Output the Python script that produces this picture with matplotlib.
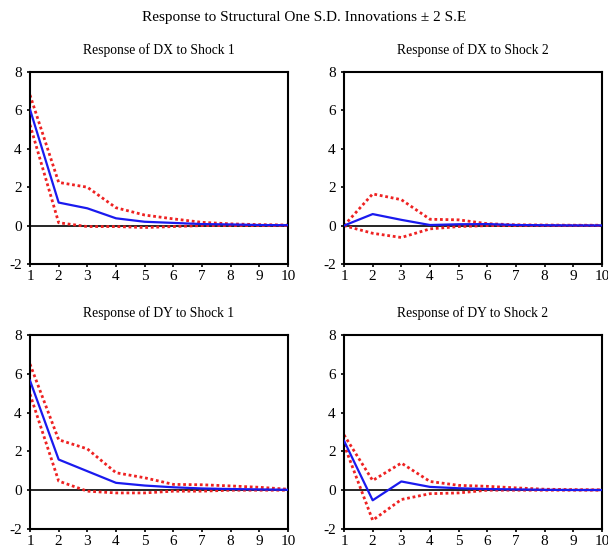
import matplotlib
matplotlib.use("Agg")
import matplotlib.pyplot as plt
import numpy as np

plt.rcParams['font.family'] = ['Liberation Serif', 'DejaVu Serif']
plt.rcParams['axes.unicode_minus'] = False

periods = list(range(1, 11))

titles = ["Response of DX to Shock 1", "Response of DX to Shock 2",
          "Response of DY to Shock 1", "Response of DY to Shock 2"]

dx_s1_mid = [6.05, 1.20, 0.90, 0.38, 0.20, 0.14, 0.08, 0.06, 0.03, 0.02]
dx_s1_up = [6.80, 2.25, 2.00, 0.93, 0.55, 0.35, 0.17, 0.09, 0.05, 0.03]
dx_s1_lo = [5.25, 0.15, -0.05, -0.05, -0.10, -0.05, 0.00, 0.00, 0.00, 0.00]

dx_s2_mid = [0.00, 0.60, 0.30, 0.03, 0.07, 0.08, 0.03, 0.02, 0.01, 0.01]
dx_s2_up = [0.00, 1.65, 1.35, 0.33, 0.30, 0.10, 0.04, 0.03, 0.02, 0.02]
dx_s2_lo = [0.00, -0.40, -0.62, -0.17, -0.05, 0.00, 0.00, 0.00, 0.00, 0.00]

dy_s1_mid = [5.65, 1.58, 0.98, 0.38, 0.24, 0.15, 0.09, 0.06, 0.04, 0.02]
dy_s1_up = [6.50, 2.60, 2.13, 0.90, 0.64, 0.30, 0.28, 0.22, 0.15, 0.05]
dy_s1_lo = [4.95, 0.47, -0.05, -0.14, -0.14, -0.05, -0.05, 0.00, 0.00, 0.00]

dy_s2_mid = [2.55, -0.52, 0.45, 0.17, 0.10, 0.06, 0.04, 0.02, 0.01, 0.01]
dy_s2_up = [2.85, 0.50, 1.40, 0.45, 0.25, 0.20, 0.12, 0.05, 0.03, 0.02]
dy_s2_lo = [2.35, -1.55, -0.48, -0.18, -0.14, 0.00, 0.00, 0.00, 0.00, 0.00]

series = [(dx_s1_mid, dx_s1_up, dx_s1_lo), (dx_s2_mid, dx_s2_up, dx_s2_lo),
          (dy_s1_mid, dy_s1_up, dy_s1_lo), (dy_s2_mid, dy_s2_up, dy_s2_lo)]

yticks = [-2, 0, 2, 4, 6, 8]

fig = plt.figure(figsize=(6.08, 5.46), dpi=100)
fig.text(0.5, 1 - 18/546, "Response to Structural One S.D. Innovations \u00b1 2 S.E",
         ha='center', va='center', fontsize=11)

positions = [
    (30/608, 1 - 264/546, 258/608, 192/546),
    (344/608, 1 - 264/546, 258/608, 192/546),
    (30/608, 1 - 529/546, 258/608, 194/546),
    (344/608, 1 - 529/546, 258/608, 194/546),
]

for pos, title, (mid, up, lo) in zip(positions, titles, series):
    ax = fig.add_axes(pos)
    ax.axhline(0, color='black', lw=1.2, zorder=1)
    ax.plot(periods, up, color='#ee2222', lw=2.0, linestyle=(0, (1, 1)), zorder=2)
    ax.plot(periods, lo, color='#ee2222', lw=2.0, linestyle=(0, (1, 1)), zorder=2)
    ax.plot(periods, mid, color='#1a1aee', lw=1.6, zorder=3)
    ax.set_xlim(1, 10)
    ax.set_ylim(-2, 8)
    ax.set_xticks(periods)
    ax.set_yticks(yticks)
    ax.tick_params(axis='y', direction='out', length=2, width=1.2, labelsize=11, pad=4)
    ax.tick_params(axis='x', direction='out', length=2, width=1.2, labelsize=11, pad=2)
    for s in ax.spines.values():
        s.set_linewidth(1.5)
    ax.set_title(title, fontsize=9.8, pad=13)

fig.savefig("out.png", dpi=100)
